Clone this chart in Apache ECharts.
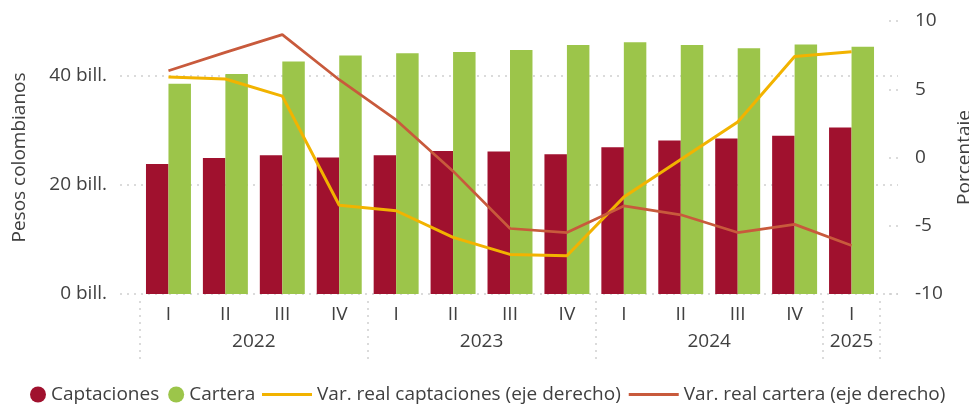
<!DOCTYPE html>
<html>
<head>
<meta charset="utf-8">
<script src="https://cdn.jsdelivr.net/npm/echarts@6/dist/echarts.min.js"></script>
<style>
  html, body { margin: 0; padding: 0; background: #fff; }
  #chart { width: 969px; height: 408px; }
</style>
</head>
<body>
<div id="chart"></div>
<script>
// datos del grafico
var quarters = ['I', 'II', 'III', 'IV', 'I', 'II', 'III', 'IV', 'I', 'II', 'III', 'IV', 'I'];
var years = ['2022', '2023', '2024', '2025'];
var yearQuarters = [4, 4, 4, 1]; // trimestres por año
var captaciones = [23.8, 24.9, 25.4, 25.0, 25.4, 26.2, 26.1, 25.6, 26.9, 28.1, 28.5, 29.0, 30.5];
var cartera = [38.5, 40.3, 42.6, 43.7, 44.1, 44.3, 44.7, 45.6, 46.1, 45.6, 45.0, 45.7, 45.3];
var varCaptaciones = [5.9, 5.75, 4.5, -3.5, -3.9, -5.85, -7.1, -7.2, -2.9, -0.15, 2.6, 7.4, 7.75];
var varCartera = [6.35, 7.7, 9.0, 5.7, 2.75, -1.0, -5.2, -5.5, -3.55, -4.2, -5.5, -4.9, -6.45];

// posiciones de separadores y etiquetas de año
var yearTicks = [0];
var yearLabelPos = [];
yearQuarters.forEach(function (n) {
  var start = yearTicks[yearTicks.length - 1];
  yearLabelPos.push(start + n / 2);
  yearTicks.push(start + n);
});

var txt = '#404040';
var font = 'Open Sans';
var lbl = { color: txt, fontSize: 19, fontFamily: font };
var dotLine = { color: '#cfcfcf', width: 1.5, type: [2, 5] };

var chart = echarts.init(document.getElementById('chart'));
chart.setOption({
  animation: false,
  textStyle: { fontFamily: font },
  grid: [
    { left: 140, right: 89, top: 21, bottom: 114, outerBoundsMode: 'none' },
    // lineas de fondo (0, 20, 40) un poco mas anchas que el area de barras
    { left: 120, right: 71, top: 21 + 273 * 10 / 50, bottom: 114, outerBoundsMode: 'none' }
  ],
  legend: [
    {
      left: 25, top: 380,
      icon: 'circle', itemWidth: 16, itemHeight: 16, itemGap: 9,
      data: ['Captaciones', 'Cartera'],
      textStyle: lbl
    },
    {
      left: 257, top: 380,
      icon: 'rect', itemWidth: 50, itemHeight: 3, itemGap: 8,
      data: ['Var. real captaciones (eje derecho)', 'Var. real cartera (eje derecho)'],
      textStyle: lbl
    }
  ],
  xAxis: [
    {
      type: 'category', gridIndex: 0, data: quarters,
      axisLine: { show: false, onZero: false }, axisTick: { show: false },
      axisLabel: Object.assign({ margin: 11 }, lbl)
    },
    {
      type: 'value', gridIndex: 0, position: 'bottom', offset: 7,
      min: 0, max: yearTicks[yearTicks.length - 1],
      axisLine: { show: false, onZero: false },
      splitLine: { show: false },
      axisTick: { show: true, customValues: yearTicks, length: 60, lineStyle: dotLine },
      axisLabel: Object.assign({
        margin: 31,
        customValues: yearLabelPos,
        formatter: function (v) { return years[yearLabelPos.indexOf(v)] || ''; }
      }, lbl)
    },
    { type: 'value', gridIndex: 1, min: 0, max: 1, show: false }
  ],
  yAxis: [
    {
      type: 'value', gridIndex: 0, min: 0, max: 50, interval: 20,
      name: 'Pesos colombianos', nameLocation: 'middle', nameRotate: 90, nameGap: 111,
      nameTextStyle: lbl,
      axisLine: { show: false }, axisTick: { show: false }, splitLine: { show: false },
      axisLabel: Object.assign({
        margin: 33, showMaxLabel: false,
        formatter: function (v) { return v > 40 ? '' : v + ' bill.'; }
      }, lbl)
    },
    {
      type: 'value', gridIndex: 0, position: 'right', min: -10, max: 10, interval: 5,
      name: 'Porcentaje', nameLocation: 'middle', nameRotate: 90, nameGap: 75,
      nameTextStyle: lbl,
      axisLine: { show: false }, splitLine: { show: false },
      axisTick: {
        show: true, length: 18,
        lineStyle: { color: '#cfcfcf', width: 1.5, type: [0, 9, 2, 5, 2, 10] }
      },
      axisLabel: Object.assign({ margin: 35 }, lbl)
    },
    {
      type: 'value', gridIndex: 1, min: 0, max: 40, interval: 20,
      axisLine: { show: false }, axisTick: { show: false }, axisLabel: { show: false },
      splitLine: { show: true, lineStyle: dotLine }
    }
  ],
  series: [
    {
      name: 'Captaciones', type: 'bar', xAxisIndex: 0, yAxisIndex: 0,
      data: captaciones, barGap: '0%', barCategoryGap: '21%',
      itemStyle: { color: '#A0112E' }
    },
    {
      name: 'Cartera', type: 'bar', xAxisIndex: 0, yAxisIndex: 0,
      data: cartera, barGap: '0%', barCategoryGap: '21%',
      itemStyle: { color: '#9CC54A' }
    },
    {
      name: 'Var. real captaciones (eje derecho)', type: 'line', xAxisIndex: 0, yAxisIndex: 1,
      data: varCaptaciones, symbol: 'none', z: 5,
      itemStyle: { color: '#F2B300' },
      lineStyle: { color: '#F2B300', width: 3 }
    },
    {
      name: 'Var. real cartera (eje derecho)', type: 'line', xAxisIndex: 0, yAxisIndex: 1,
      data: varCartera, symbol: 'none', z: 6,
      itemStyle: { color: '#C85A3C' },
      lineStyle: { color: '#C85A3C', width: 2.7 }
    }
  ]
});
</script>
</body>
</html>
